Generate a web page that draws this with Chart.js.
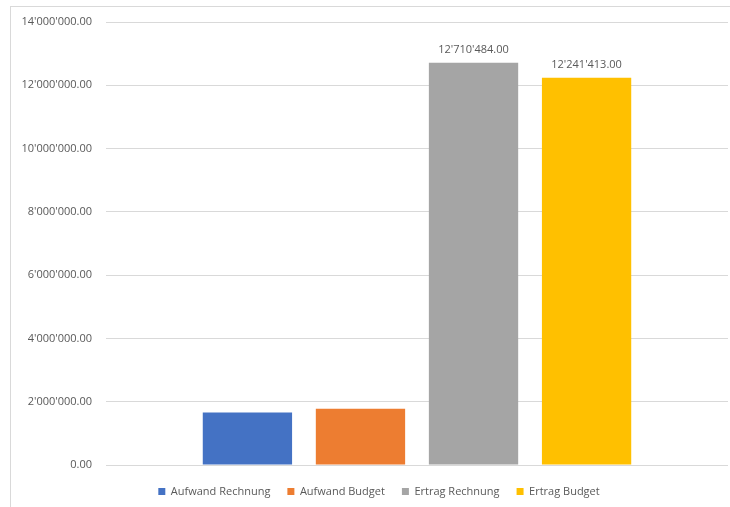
<!DOCTYPE html>
<html>
<head>
<meta charset="utf-8">
<script src="https://cdn.jsdelivr.net/npm/chart.js@4"></script>
<style>
  body { margin: 0; background: #fff; overflow: hidden; }
  #frame { position: absolute; left: 10px; top: 6px; width: 740px; height: 520px;
           border-left: 1px solid #d9d9d9; border-top: 1px solid #d9d9d9; }
  #wrap { position: absolute; left: 0; top: 0; width: 730px; height: 507px; }
</style>
</head>
<body>
<div id="frame"></div>
<div id="wrap"><canvas id="chart"></canvas></div>
<script>
// data
var categories   = [''];
var seriesNames  = ['Aufwand Rechnung', 'Aufwand Budget', 'Ertrag Rechnung', 'Ertrag Budget'];
var seriesValues = [1660000, 1780000, 12710484, 12241413];
var showValue    = [false, false, true, true];
var yTicks       = [0, 2000000, 4000000, 6000000, 8000000, 10000000, 12000000, 14000000];

var seriesColors = ['#4472C4', '#ED7D31', '#A5A5A5', '#FFC000'];
var textColor = '#595959';
var fontFamily = "'Open Sans', 'Noto Sans', sans-serif";

// 12'710'484.00
function swiss(v) {
	var parts = v.toFixed(2).split('.');
	return parts[0].replace(/\B(?=(\d{3})+(?!\d))/g, "'") + '.' + parts[1];
}

var datasets = [];
for (var i = 0; i < seriesNames.length; i++) {
	datasets.push({
		label: seriesNames[i],
		data: [seriesValues[i]],
		backgroundColor: seriesColors[i],
		borderWidth: 0,
		categoryPercentage: 0.727,
		barPercentage: 0.79
	});
}

var valueLabels = {
	id: 'valueLabels',
	afterDatasetsDraw: function(chart) {
		var ctx = chart.ctx;
		ctx.save();
		ctx.font = '11px ' + fontFamily;
		ctx.fillStyle = textColor;
		ctx.textAlign = 'center';
		ctx.textBaseline = 'bottom';
		chart.data.datasets.forEach(function(ds, i) {
			if (!showValue[i]) return;
			var bar = chart.getDatasetMeta(i).data[0];
			ctx.fillText(swiss(ds.data[0]), bar.x, bar.y - 7);
		});
		ctx.restore();
	}
};

// legend sits a little right of centre in the original
var legendShift = {
	id: 'legendShift',
	afterLayout: function(chart) {
		chart.legend.left += 15;
		chart.legend.right += 15;
	}
};

new Chart(document.getElementById('chart'), {
	type: 'bar',
	data: { labels: categories, datasets: datasets },
	plugins: [valueLabels, legendShift],
	options: {
		responsive: true,
		maintainAspectRatio: false,
		animation: false,
		layout: { padding: { top: 22, right: 2, left: 0, bottom: 0 } },
		plugins: {
			tooltip: { enabled: false },
			legend: {
				position: 'bottom',
				labels: {
					boxWidth: 7,
					boxHeight: 7,
					padding: 17,
					color: textColor,
					font: { family: fontFamily, size: 11 }
				}
			}
		},
		scales: {
			x: {
				afterFit: function(scale) { scale.height = 4; },
				border: { display: false },
				grid: { display: false },
				ticks: { display: false }
			},
			y: {
				min: 0,
				max: 14000000,
				afterFit: function(scale) { scale.width = 106; },
				afterBuildTicks: function(scale) {
					scale.ticks = yTicks.map(function(v) { return { value: v }; });
				},
				border: { display: false },
				grid: { color: '#d9d9d9', lineWidth: 1, drawTicks: false },
				ticks: {
					padding: 14,
					color: textColor,
					font: { family: fontFamily, size: 11 },
					callback: function(v) { return swiss(v); }
				}
			}
		}
	}
});
</script>
</body>
</html>
